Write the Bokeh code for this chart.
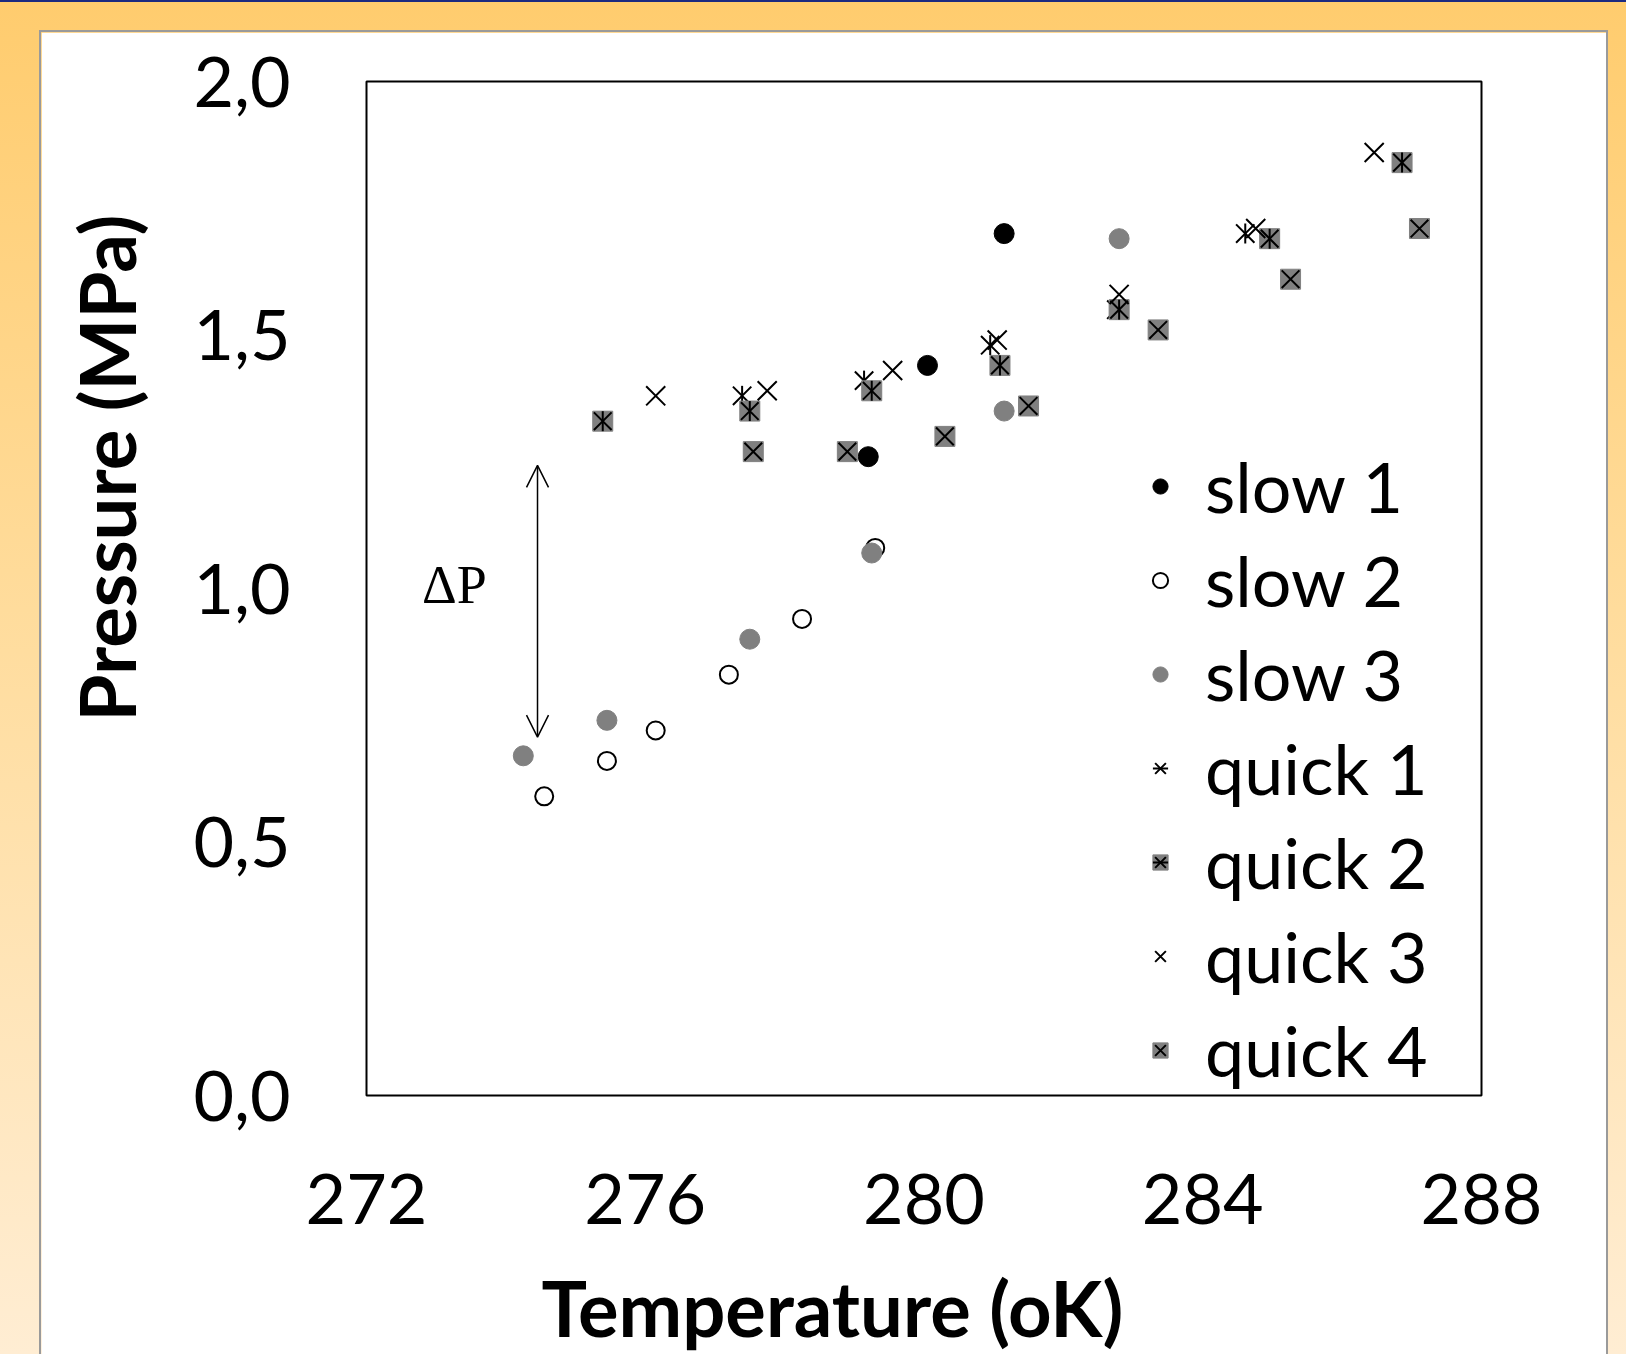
import math
from bokeh.plotting import figure
from bokeh.models import (Legend, LegendItem, Label, Arrow, OpenHead, FixedTicker,
                          CustomJSTickFormatter, Spacer, Range1d, Title)
from bokeh.layouts import column, row
from bokeh.embed import file_html
from bokeh.resources import INLINE

# ---------------- data ----------------
temp_slow1 = [279.20, 280.05, 281.15]
pres_slow1 = [1.26, 1.44, 1.70]

temp_slow2 = [274.55, 275.45, 276.15, 277.20, 278.25, 279.30]
pres_slow2 = [0.59, 0.66, 0.72, 0.83, 0.94, 1.08]

temp_slow3 = [274.25, 275.45, 277.50, 279.25, 281.15, 282.80]
pres_slow3 = [0.67, 0.74, 0.90, 1.07, 1.35, 1.69]

temp_quick1 = [277.39, 279.14, 280.95, 282.76, 284.61]
pres_quick1 = [1.38, 1.41, 1.48, 1.55, 1.70]

temp_quick2 = [275.39, 277.50, 279.25, 281.09, 282.80, 284.96, 286.86]
pres_quick2 = [1.33, 1.35, 1.39, 1.44, 1.55, 1.69, 1.84]

temp_quick3 = [276.15, 277.75, 279.55, 281.05, 282.80, 284.76, 286.46]
pres_quick3 = [1.38, 1.39, 1.43, 1.49, 1.58, 1.71, 1.86]

temp_quick4 = [277.55, 278.90, 280.30, 281.50, 283.36, 285.26, 287.11]
pres_quick4 = [1.27, 1.27, 1.30, 1.36, 1.51, 1.61, 1.71]

series_labels = ["slow 1", "slow 2", "slow 3", "quick 1", "quick 2", "quick 3", "quick 4"]
x_ticks = [272, 276, 280, 284, 288]
y_ticks = [0.0, 0.5, 1.0, 1.5, 2.0]
x_title = "Temperature (oK)"
y_title = "Pressure (MPa)"
delta_label = "ΔP"
delta_T = 274.454          # arrow position (temperature)
delta_P_low = 0.707        # arrow bottom (pressure)
delta_P_high = 1.243       # arrow top (pressure)
delta_text_T = 273.26
delta_text_P = 1.006

GRAY = "#808080"
FONT = "Lato"

p = figure(width=1565, height=1322,
           x_range=Range1d(272, 288), y_range=Range1d(0, 2),
           output_backend="svg", toolbar_location=None,
           min_border_left=325, min_border_right=125,
           min_border_top=49, min_border_bottom=259,
           background_fill_color="white", border_fill_color="white",
           styles={"box-shadow": "0 0 0 2px #9a9a9a"})

p.outline_line_color = "black"
p.outline_line_width = 2
p.xgrid.visible = False
p.ygrid.visible = False

for ax in (p.xaxis[0], p.yaxis[0]):
    ax.axis_line_color = None
    ax.major_tick_line_color = None
    ax.minor_tick_line_color = None
    ax.major_tick_out = 0
    ax.major_tick_in = 0
    ax.minor_tick_out = 0
    ax.major_label_text_font = FONT
    ax.major_label_text_font_size = "70px"
    ax.major_label_text_color = "black"
    # blank axis label used only as spacing between tick labels and title
    ax.axis_label = " "
    ax.axis_label_text_font_size = "1px"

p.xaxis[0].axis_label_standoff = 27
p.yaxis[0].axis_label_standoff = 18

p.xaxis[0].ticker = FixedTicker(ticks=x_ticks)
p.yaxis[0].ticker = FixedTicker(ticks=y_ticks)
p.yaxis[0].formatter = CustomJSTickFormatter(code="return tick.toFixed(1).replace('.', ',');")
p.xaxis[0].major_label_standoff = 78
p.yaxis[0].major_label_standoff = 76

# ---------------- marks ----------------
r_s1 = p.scatter(temp_slow1, pres_slow1, marker="circle", size=20,
                 fill_color="black", line_color="black")
r_s2 = p.scatter(temp_slow2, pres_slow2, marker="circle", size=18,
                 fill_color="white", line_color="black", line_width=2)
r_s3 = p.scatter(temp_slow3, pres_slow3, marker="circle", size=20,
                 fill_color=GRAY, line_color=GRAY)

r_q1x = p.scatter(temp_quick1, pres_quick1, marker="x", size=26,
                  line_color="black", line_width=2)
r_q1v = p.scatter(temp_quick1, pres_quick1, marker="dash", size=20, angle=math.pi / 2,
                  line_color="black", line_width=2)

r_q2s = p.scatter(temp_quick2, pres_quick2, marker="square", size=20,
                  fill_color=GRAY, line_color=GRAY)
r_q2x = p.scatter(temp_quick2, pres_quick2, marker="x", size=25,
                  line_color="black", line_width=2)
r_q2v = p.scatter(temp_quick2, pres_quick2, marker="dash", size=20, angle=math.pi / 2,
                  line_color="black", line_width=2)

r_q3x = p.scatter(temp_quick3, pres_quick3, marker="x", size=27,
                  line_color="black", line_width=2)

r_q4s = p.scatter(temp_quick4, pres_quick4, marker="square", size=20,
                  fill_color=GRAY, line_color=GRAY)
r_q4x = p.scatter(temp_quick4, pres_quick4, marker="x", size=25,
                  line_color="black", line_width=2)

# ---------------- annotations ----------------
p.add_layout(Arrow(start=OpenHead(size=22, line_width=1.5, line_color="black"),
                   end=OpenHead(size=22, line_width=1.5, line_color="black"),
                   x_start=delta_T, y_start=delta_P_low,
                   x_end=delta_T, y_end=delta_P_high,
                   line_width=1.5, line_color="black"))
p.add_layout(Label(x=delta_text_T, y=delta_text_P, text=delta_label,
                   text_font="Liberation Serif", text_font_size="54px",
                   text_align="center", text_baseline="middle", text_color="black"))

p.add_layout(Title(text=y_title, align="left", offset=374, standoff=34,
                   text_font=FONT, text_font_style="bold", text_font_size="76px",
                   text_color="black"), "left")
p.add_layout(Title(text=x_title, align="left", offset=175, standoff=4,
                   text_font=FONT, text_font_style="bold", text_font_size="76px",
                   text_color="black"), "below")

items = [
    LegendItem(label=series_labels[0], renderers=[r_s1]),
    LegendItem(label=series_labels[1], renderers=[r_s2]),
    LegendItem(label=series_labels[2], renderers=[r_s3]),
    LegendItem(label=series_labels[3], renderers=[r_q1x, r_q1v]),
    LegendItem(label=series_labels[4], renderers=[r_q2s, r_q2x, r_q2v]),
    LegendItem(label=series_labels[5], renderers=[r_q3x]),
    LegendItem(label=series_labels[6], renderers=[r_q4s, r_q4x]),
]
legend = Legend(items=items, location=(775, 0), orientation="vertical",
                border_line_color=None, background_fill_alpha=0,
                padding=0, margin=0, spacing=4, label_height=90,
                glyph_height=38, glyph_width=38, label_standoff=26,
                label_text_font=FONT, label_text_font_size="70px",
                label_text_baseline="middle", label_text_color="black")
p.add_layout(legend, "center")

# ---------------- page frame ----------------
top_line = Spacer(width=1626, height=2, styles={"background-color": "#1c2a80"})
top_gap = Spacer(width=1626, height=30)
left_gap = Spacer(width=41, height=1322)
right_gap = Spacer(width=20, height=1322)

layout = column(top_line, top_gap, row(left_gap, p, right_gap),
                styles={"background": "linear-gradient(to bottom, #FFCC6E 0%, #FFDC9C 45%, #FFEDD3 100%)"})

open("out.html", "w").write(file_html(layout, INLINE, title="Pressure vs Temperature"))
